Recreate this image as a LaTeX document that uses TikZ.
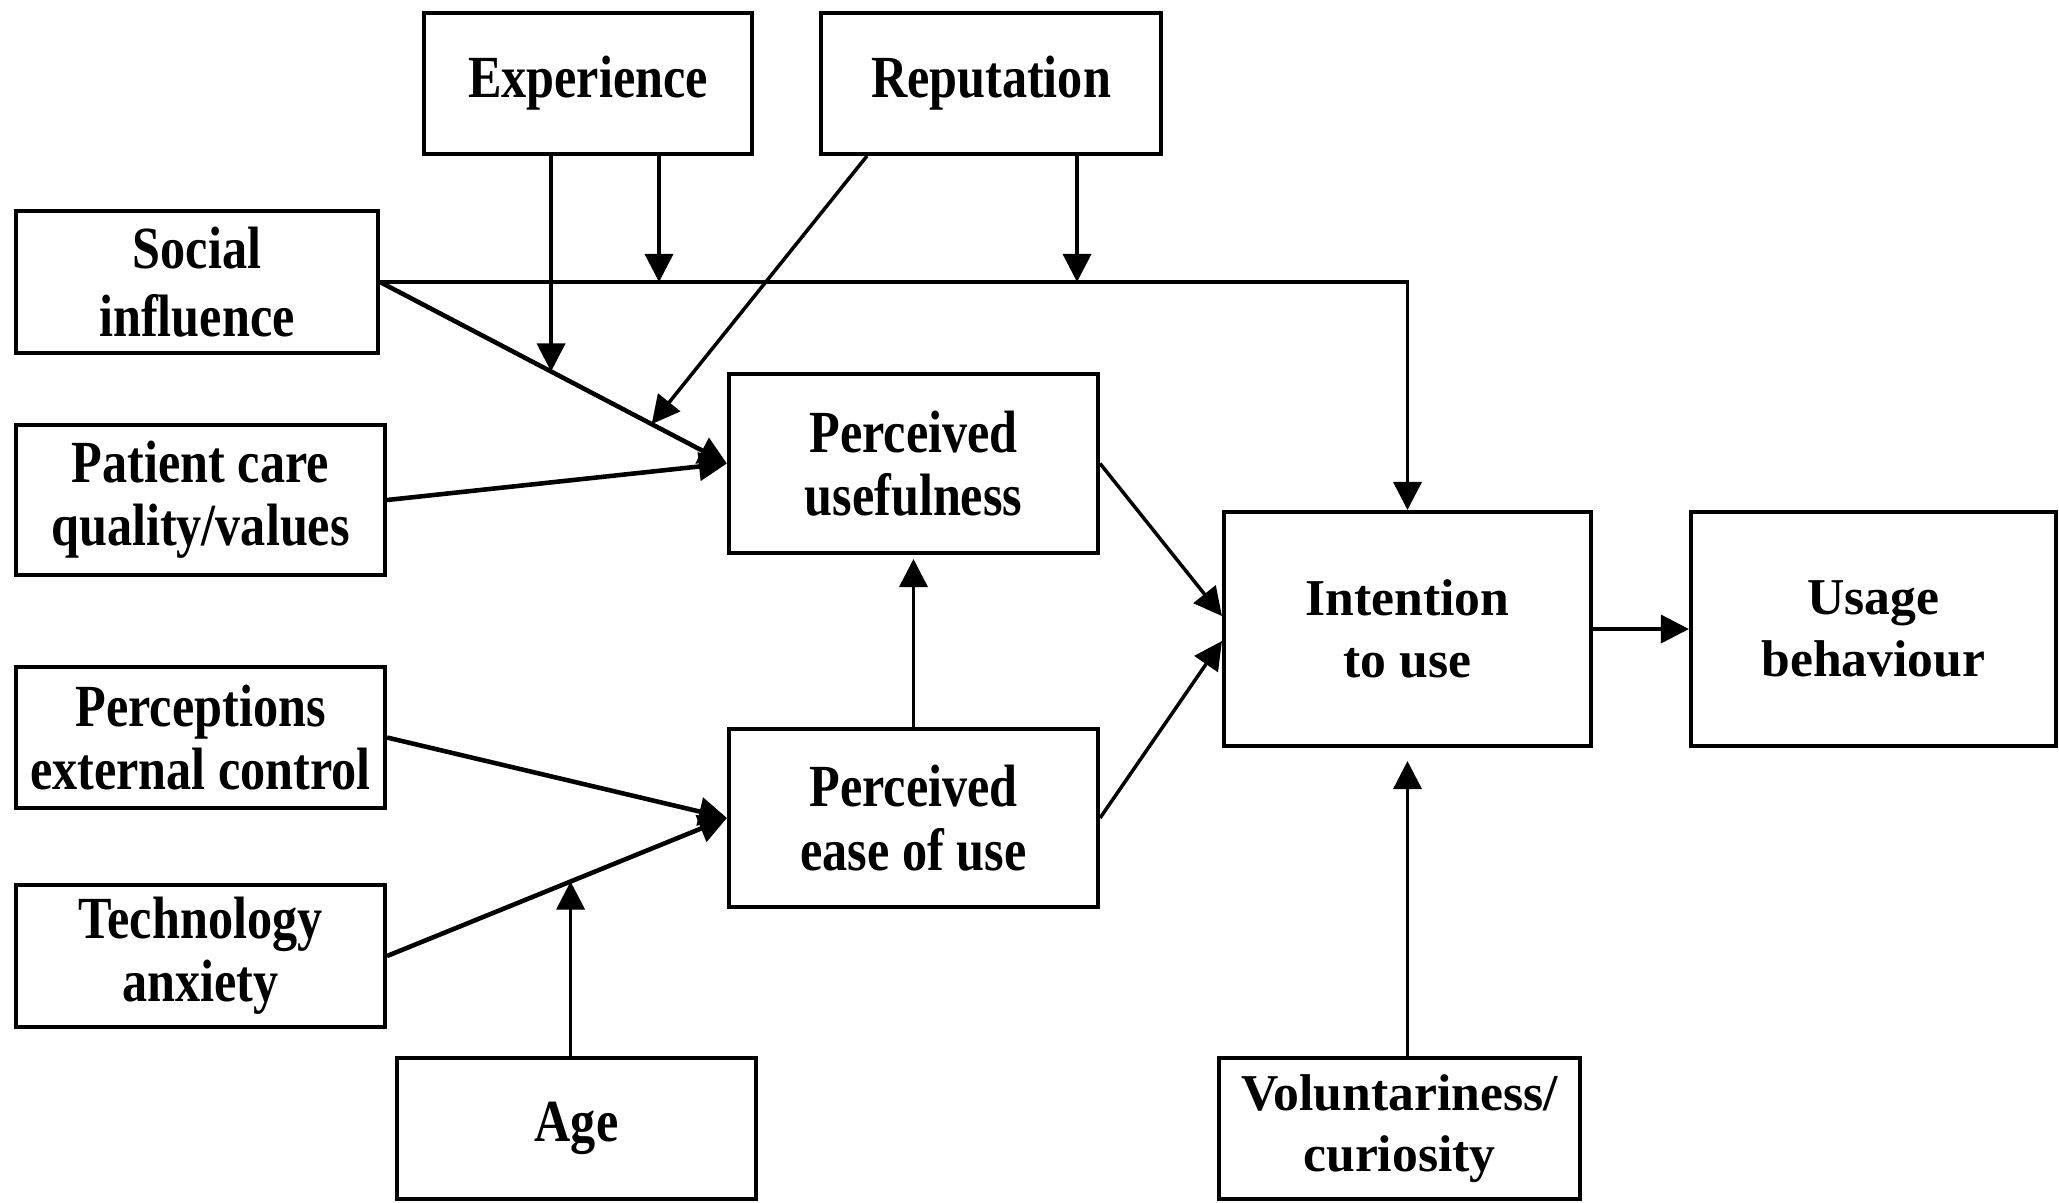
\documentclass[tikz,border=0pt]{standalone}
\usepackage{fontspec}
\setmainfont{Liberation Serif}
\newfontfamily\condfont{Liberation Serif}[FakeStretch=0.84]
\usetikzlibrary{arrows.meta,calc}
\begin{document}
\begin{tikzpicture}[x=0.01cm,y=-0.01cm,
  box/.style={draw, line width=1.1pt, align=center, inner sep=0pt},
  lbox/.style={box, font=\condfont\bfseries\fontsize{17}{18}\selectfont},
  rbox/.style={box, font=\bfseries\fontsize{14.7}{17.5}\selectfont},
  arr/.style={line width=1pt, -{Triangle[length=0.28cm,width=0.28cm]}},
  thk/.style={line width=1.3pt}]
\useasboundingbox (0,0) rectangle (2059,1202);
% boxes
\node[lbox, minimum width=3.28cm, minimum height=1.41cm] (exp) at (588,83.5) {Experience};
\node[lbox, minimum width=3.40cm, minimum height=1.41cm] (rep) at (991,83.5) {Reputation};
\node[lbox, font=\condfont\bfseries\fontsize{17}{19.5}\selectfont, minimum width=3.62cm, minimum height=1.42cm] (soc) at (197,282) {Social\\influence};
\node[lbox, minimum width=3.69cm, minimum height=1.50cm] (pat) at (200.5,500) {Patient care\\quality/values};
\node[lbox, minimum width=3.69cm, minimum height=1.79cm] (pu) at (913.5,463.5) {Perceived\\usefulness};
\node[lbox, minimum width=3.69cm, minimum height=1.41cm] (pec) at (200.5,737.5) {Perceptions\\external control};
\node[lbox, minimum width=3.69cm, minimum height=1.78cm] (peou) at (913.5,818) {Perceived\\ease of use};
\node[lbox, minimum width=3.69cm, minimum height=1.42cm] (tech) at (200.5,956) {Technology\\anxiety};
\node[lbox, minimum width=3.59cm, minimum height=1.41cm] (age) at (576.5,1128.5) {Age};
\node[rbox, minimum width=3.67cm, minimum height=2.34cm] (int) at (1407.5,629) {Intention\\to use};
\node[rbox, minimum width=3.65cm, minimum height=2.34cm] (use) at (1873.5,629) {Usage\\behaviour};
\node[rbox, minimum width=3.61cm, minimum height=1.41cm] (vol) at (1399.5,1128.5) {Voluntariness/\\curiosity};
% helper coordinates on connectors
\coordinate (e1) at ($(soc.east)!0.493!(pu.west)$);
\coordinate (r1) at ($(soc.east)!0.783!(pu.west)$);
\coordinate (e2) at ($(soc.east)+(279,0)$);
\coordinate (r2) at ($(soc.east)+(697,0)$);
\coordinate (a1) at ($(tech.east)!0.54!(peou.west)$);
% connectors
\draw[arr] (soc.east) -| (int.north);
\draw[arr, thk] (soc.east) -- (pu.west);
\draw[arr, thk] (pat.east) -- (pu.west);
\draw[arr] (exp.south -| e1) -- (e1);
\draw[arr] (exp.south -| e2) -- (e2);
\draw[arr] ($(rep.south west)+(48,0)$) -- (r1);
\draw[arr] (rep.south -| r2) -- (r2);
\draw[arr] (pu.east) -- ($(int.west)+(0,-13)$);
\draw[arr] (peou.east) -- ($(int.west)+(0,12)$);
\draw[arr, shorten >=0.04cm] (peou.north) -- (pu.south);
\draw[arr, thk] (pec.east) -- (peou.west);
\draw[arr, thk] (tech.east) -- (peou.west);
\draw[arr] (age.north -| a1) -- (a1);
\draw[arr] (int.east) -- (use.west);
\draw[arr, shorten >=0.13cm] (vol.north -| int.south) -- (int.south);
\end{tikzpicture}
\end{document}
